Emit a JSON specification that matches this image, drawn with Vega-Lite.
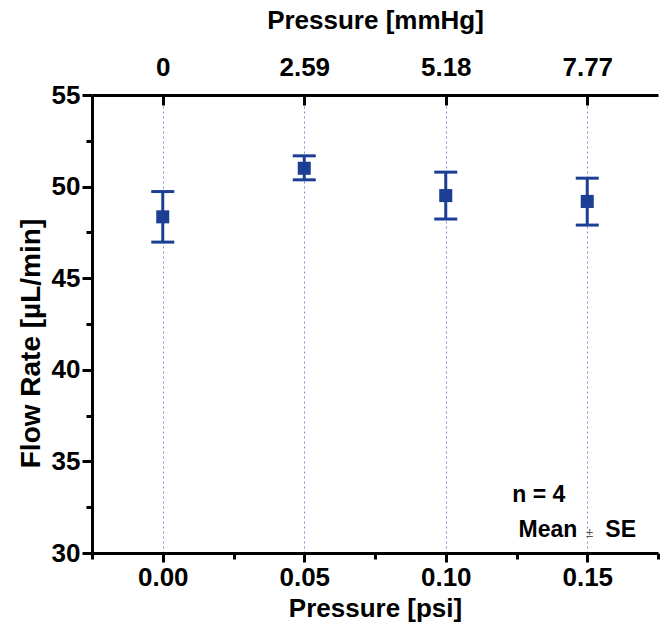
{
  "$schema": "https://vega.github.io/schema/vega-lite/v6.json",
  "width": 566,
  "height": 458,
  "autosize": "none",
  "padding": {"left": 92, "top": 95, "right": 9, "bottom": 77},
  "background": "white",
  "config": {"view": {"stroke": null}, "font": "Liberation Sans, Arial", "axis": {"labelFont": "Liberation Sans, Arial", "titleFont": "Liberation Sans, Arial"}},
  "data": {"values": [
    {"psi": 0.00, "mean": 48.35, "lo": 46.97, "hi": 49.73},
    {"psi": 0.05, "mean": 51.00, "lo": 50.37, "hi": 51.68},
    {"psi": 0.10, "mean": 49.51, "lo": 48.23, "hi": 50.79},
    {"psi": 0.15, "mean": 49.19, "lo": 47.90, "hi": 50.46}
  ]},
  "layer": [
    {
      "mark": {"type": "rule", "color": "#1c3f94", "strokeWidth": 3, "opacity": 1},
      "encoding": {
        "x": {"field": "psi", "type": "quantitative",
          "scale": {"domain": [-0.025, 0.175], "nice": false, "zero": false},
          "axis": {"orient": "bottom",
            "values": [-0.025, 0, 0.025, 0.05, 0.075, 0.1, 0.125, 0.15, 0.175],
            "labelExpr": "abs(round(datum.value*40))%2==0 ? format(datum.value,'.2f') : ''",
            "tickSize": {"condition": {"test": "abs(round(datum.value*40))%2==0", "value": 9}, "value": 6},
            "tickWidth": 3, "tickColor": "black",
            "domainWidth": 3, "domainColor": "black", "grid": false,
            "labelFontSize": 26, "labelFontWeight": "bold", "labelColor": "black", "labelPadding": 2, "labelFlush": false,
            "title": "Pressure [psi]", "titleFontSize": 26, "titleFontWeight": "bold", "titleColor": "black", "titlePadding": 5}},
        "y": {"field": "lo", "type": "quantitative",
          "scale": {"domain": [30, 55], "nice": false, "zero": false},
          "axis": {"orient": "left",
            "values": [30, 32.5, 35, 37.5, 40, 42.5, 45, 47.5, 50, 52.5, 55],
            "labelExpr": "datum.value%5==0 ? datum.label : ''",
            "tickSize": {"condition": {"test": "datum.value%5==0", "value": 10}, "value": 6},
            "tickWidth": 3, "tickColor": "black",
            "domainWidth": 3, "domainColor": "black", "grid": false,
            "labelFontSize": 26, "labelFontWeight": "bold", "labelColor": "black", "labelPadding": 2, "labelFlush": false,
            "title": "Flow Rate [µL/min]", "titleFontSize": 28, "titleFontWeight": "bold", "titleColor": "black", "titlePadding": 6, "titleY": 248}},
        "y2": {"field": "hi"}
      }
    },
    {
      "mark": {"type": "tick", "color": "#1c3f94", "orient": "horizontal", "size": 23, "thickness": 3, "opacity": 1},
      "encoding": {
        "x": {"field": "psi", "type": "quantitative", "axis": null},
        "y": {"field": "lo", "type": "quantitative"}
      }
    },
    {
      "mark": {"type": "tick", "color": "#1c3f94", "orient": "horizontal", "size": 23, "thickness": 3, "opacity": 1},
      "encoding": {
        "x": {"field": "psi", "type": "quantitative", "axis": null},
        "y": {"field": "hi", "type": "quantitative"}
      }
    },
    {
      "mark": {"type": "square", "color": "#1c3f94", "filled": true, "opacity": 1, "size": 170},
      "encoding": {
        "x": {"field": "psi", "type": "quantitative",
          "axis": {"orient": "top",
            "values": [0, 0.05, 0.1, 0.15],
            "labelExpr": "datum.value==0 ? '0' : format(datum.value/0.05*2.59, '.2f')",
            "tickSize": -10, "tickWidth": 3, "tickColor": "black",
            "domainWidth": 3, "domainColor": "black",
            "grid": true, "gridDash": [2, 3], "gridColor": "#8a8ad6", "gridWidth": 1,
            "labelFontSize": 26, "labelFontWeight": "bold", "labelColor": "black", "labelPadding": 25, "labelFlush": false,
            "title": "Pressure [mmHg]", "titleFontSize": 26, "titleFontWeight": "bold", "titleColor": "black", "titlePadding": 21}},
        "y": {"field": "mean", "type": "quantitative"}
      }
    },
    {
      "data": {"values": [{"x": 0.1235, "y": 32.78, "t": "n = 4"}]},
      "mark": {"type": "text", "fontSize": 23, "fontWeight": "bold", "color": "black", "align": "left", "baseline": "alphabetic"},
      "encoding": {
        "x": {"field": "x", "type": "quantitative", "axis": null},
        "y": {"field": "y", "type": "quantitative"},
        "text": {"field": "t"}
      }
    },
    {
      "data": {"values": [{"x": 0.1465, "y": 30.87, "t": "Mean"}]},
      "mark": {"type": "text", "fontSize": 23, "fontWeight": "bold", "color": "black", "align": "right", "baseline": "alphabetic"},
      "encoding": {
        "x": {"field": "x", "type": "quantitative", "axis": null},
        "y": {"field": "y", "type": "quantitative"},
        "text": {"field": "t"}
      }
    },
    {
      "data": {"values": [{"x": 0.1508, "y": 30.87, "t": "±"}]},
      "mark": {"type": "text", "fontSize": 13, "fontWeight": "normal", "color": "#555555", "align": "center", "baseline": "alphabetic"},
      "encoding": {
        "x": {"field": "x", "type": "quantitative", "axis": null},
        "y": {"field": "y", "type": "quantitative"},
        "text": {"field": "t"}
      }
    },
    {
      "data": {"values": [{"x": 0.1564, "y": 30.87, "t": "SE"}]},
      "mark": {"type": "text", "fontSize": 23, "fontWeight": "bold", "color": "black", "align": "left", "baseline": "alphabetic"},
      "encoding": {
        "x": {"field": "x", "type": "quantitative", "axis": null},
        "y": {"field": "y", "type": "quantitative"},
        "text": {"field": "t"}
      }
    }
  ],
  "resolve": {"axis": {"x": "independent"}}
}
